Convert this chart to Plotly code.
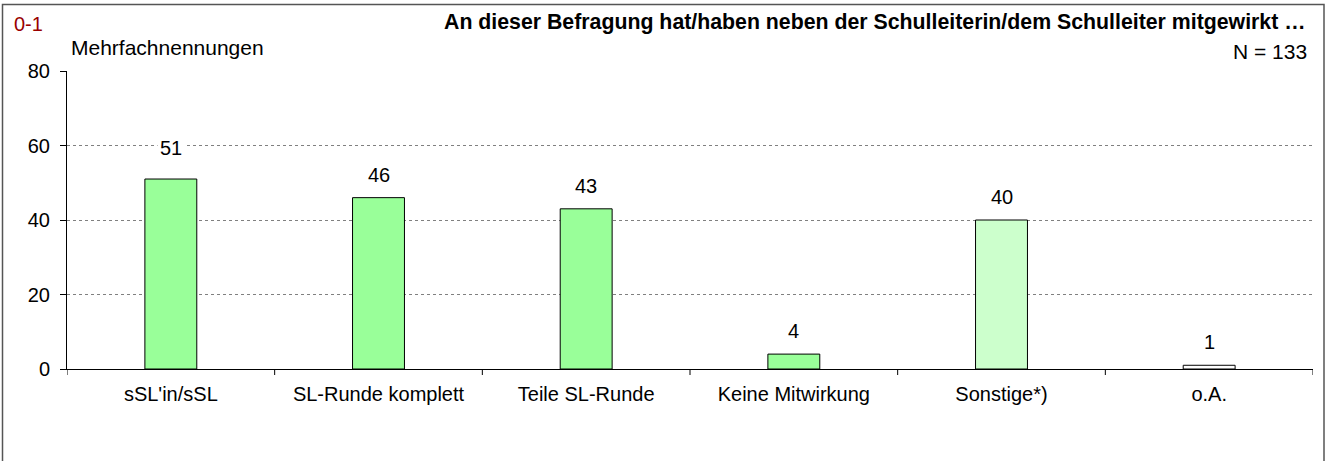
import plotly.graph_objects as go

categories = ["sSL'in/sSL", "SL-Runde komplett", "Teile SL-Runde", "Keine Mitwirkung", "Sonstige*)", "o.A."]
values = [51, 46, 43, 4, 40, 1]
bar_colors = ["#99FF99", "#99FF99", "#99FF99", "#99FF99", "#CCFFCC", "#FFFFFF"]
y_ticks = [0, 20, 40, 60, 80]

W, H = 1327, 461
L, R, T, B = 67, 14, 71, 92
PW, PH = W - L - R, H - T - B
FONT = "Liberation Sans, Arial"
FS = 20

fig = go.Figure()
fig.add_trace(go.Bar(
    x=list(range(len(categories))),
    y=values,
    width=0.25,
    marker=dict(color=bar_colors, line=dict(color="#000000", width=1)),
    hoverinfo="skip",
))

# value labels with white background (break the gridlines)
for i, v in enumerate(values):
    fig.add_annotation(x=i, y=v, xref="x", yref="y", text=str(v),
                       showarrow=False, yanchor="middle",
                       yshift=31 if v > 50 else 23,
                       bgcolor="white", borderpad=2,
                       font=dict(family=FONT, size=FS, color="#000000"))

fig.update_layout(
    width=W, height=H,
    margin=dict(l=L, r=R, t=T, b=B),
    paper_bgcolor="white", plot_bgcolor="white",
    showlegend=False,
    font=dict(family=FONT, size=FS, color="#000000"),
    xaxis=dict(
        range=[-0.5, len(categories) - 0.5],
        tickmode="array",
        tickvals=list(range(len(categories))),
        ticktext=categories,
        showgrid=False,
        showline=True, linecolor="#000000", linewidth=1,
        ticks="", zeroline=False,
        ticklabelstandoff=7,
        tickfont=dict(size=FS),
    ),
    yaxis=dict(
        range=[0, 80],
        tickmode="array", tickvals=y_ticks,
        showgrid=True, gridcolor="#808080", griddash="dot", gridwidth=1,
        showline=True, linecolor="#000000", linewidth=1,
        ticks="outside", ticklen=6, tickcolor="#000000",
        zeroline=False,
        ticklabelstandoff=6,
        tickfont=dict(size=FS),
    ),
)

# category boundary tick marks
for i in range(len(categories) + 1):
    fig.add_shape(type="line", xref="x", yref="paper",
                  x0=i - 0.5, x1=i - 0.5, y0=0, y1=-6 / PH,
                  line=dict(color="#000000", width=1))

# outer border
fig.add_shape(type="rect", xref="paper", yref="paper",
              x0=-(L - 2.5) / PW, x1=1 + (1324 - (W - R)) / PW,
              y0=-(B + 20) / PH, y1=1 + (T - 4.5) / PH,
              line=dict(color="#555555", width=1.5), layer="below")

def ypx(py):
    return 1 + (T - py) / PH

def xpx(px):
    return (px - L) / PW

fig.add_annotation(text="0-1", xref="paper", yref="paper",
                   x=xpx(12), y=ypx(24), xanchor="left", yanchor="middle",
                   showarrow=False, font=dict(size=FS, color="#990000"))
fig.add_annotation(text="Mehrfachnennungen", xref="paper", yref="paper",
                   x=xpx(69), y=ypx(47), xanchor="left", yanchor="middle",
                   showarrow=False, font=dict(size=21))
fig.add_annotation(text="<b>An dieser Befragung hat/haben neben der Schulleiterin/dem Schulleiter mitgewirkt …</b>",
                   xref="paper", yref="paper",
                   x=xpx(1308), y=ypx(22), xanchor="right", yanchor="middle",
                   showarrow=False, font=dict(size=21.3))
fig.add_annotation(text="N = 133", xref="paper", yref="paper",
                   x=xpx(1309), y=ypx(51), xanchor="right", yanchor="middle",
                   showarrow=False, font=dict(size=21))

fig.write_html("out.html", config={"displayModeBar": False},
               post_script="document.body.style.margin='0';")
